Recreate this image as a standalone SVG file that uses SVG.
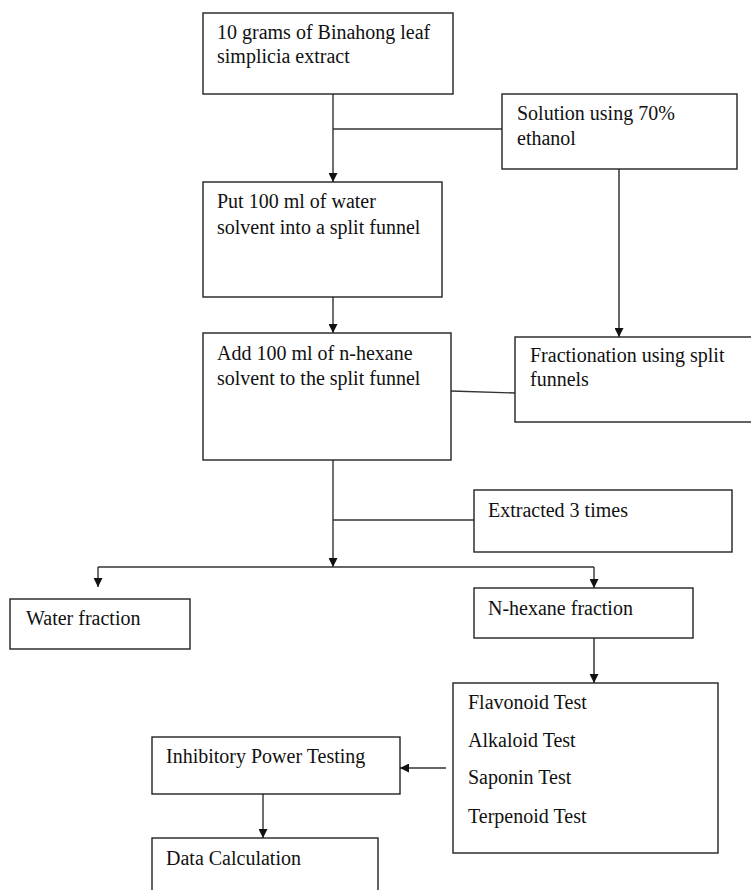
<svg xmlns="http://www.w3.org/2000/svg" width="751" height="890" viewBox="0 0 751 890">
<style>
.box{fill:#fff;stroke:#222;stroke-width:1.4}
.t{font-family:"Liberation Serif","Times New Roman",serif;font-size:20px;fill:#111}
.c{fill:none;stroke:#333;stroke-width:1.4}
.g{fill:none;stroke:#666;stroke-width:2}
</style>
<defs>
<marker id="ah" viewBox="0 0 10 10" refX="10" refY="5" markerWidth="10" markerHeight="9" markerUnits="userSpaceOnUse" orient="auto">
<path d="M0,0 L10,5 L0,10 z" fill="#111"/>
</marker>
</defs>
<rect width="751" height="890" fill="#fff"/>
<g id="connectors">
<line class="c" x1="333" y1="94" x2="333" y2="182" marker-end="url(#ah)"/>
<line class="c" x1="333" y1="129" x2="502" y2="129"/>
<line class="g" x1="619" y1="169" x2="619" y2="337" marker-end="url(#ah)"/>
<line class="c" x1="333" y1="297" x2="333" y2="333" marker-end="url(#ah)"/>
<line class="c" x1="451" y1="391" x2="515" y2="393"/>
<line class="c" x1="333" y1="460" x2="333" y2="567" marker-end="url(#ah)"/>
<line class="c" x1="333" y1="520" x2="474" y2="520"/>
<line class="c" x1="98" y1="567" x2="594" y2="567"/>
<line class="c" x1="98" y1="567" x2="98" y2="587" marker-end="url(#ah)"/>
<line class="c" x1="594" y1="567" x2="594" y2="588" marker-end="url(#ah)"/>
<line class="g" x1="594" y1="638" x2="594" y2="683" marker-end="url(#ah)"/>
<line class="c" x1="446" y1="768" x2="400" y2="768" marker-end="url(#ah)"/>
<line class="c" x1="263" y1="794" x2="263" y2="838" marker-end="url(#ah)"/>
</g>
<g id="n1">
<rect class="box" x="203" y="13" width="250" height="81"/>
<text class="t" x="217" y="39">10 grams of Binahong leaf</text>
<text class="t" x="217" y="63">simplicia extract</text>
</g>
<g id="n2">
<rect class="box" x="502" y="94" width="235" height="75"/>
<text class="t" x="517" y="120">Solution using 70%</text>
<text class="t" x="517" y="145">ethanol</text>
</g>
<g id="n3">
<rect class="box" x="203" y="182" width="239" height="115"/>
<text class="t" x="217" y="208">Put 100 ml of water</text>
<text class="t" x="217" y="234">solvent into a split funnel</text>
</g>
<g id="n4">
<rect class="box" x="203" y="333" width="248" height="127"/>
<text class="t" x="217" y="360">Add 100 ml of n-hexane</text>
<text class="t" x="217" y="385">solvent to the split funnel</text>
</g>
<g id="n5">
<rect class="box" x="515" y="337" width="250" height="85"/>
<text class="t" x="530" y="362">Fractionation using split</text>
<text class="t" x="530" y="386">funnels</text>
</g>
<g id="n6">
<rect class="box" x="474" y="490" width="258" height="62"/>
<text class="t" x="488" y="517">Extracted 3 times</text>
</g>
<g id="n7">
<rect class="box" x="10" y="599" width="180" height="50"/>
<text class="t" x="26" y="625">Water fraction</text>
</g>
<g id="n8">
<rect class="box" x="474" y="588" width="219" height="50"/>
<text class="t" x="488" y="615">N-hexane fraction</text>
</g>
<g id="n9">
<rect class="box" x="453" y="683" width="265" height="170"/>
<text class="t" x="468" y="709">Flavonoid Test</text>
<text class="t" x="468" y="747">Alkaloid Test</text>
<text class="t" x="468" y="784">Saponin Test</text>
<text class="t" x="468" y="823">Terpenoid Test</text>
</g>
<g id="n10">
<rect class="box" x="152" y="737" width="248" height="57"/>
<text class="t" x="166" y="763">Inhibitory Power Testing</text>
</g>
<g id="n11">
<rect class="box" x="152" y="838" width="226" height="70"/>
<text class="t" x="166" y="865">Data Calculation</text>
</g>
</svg>
